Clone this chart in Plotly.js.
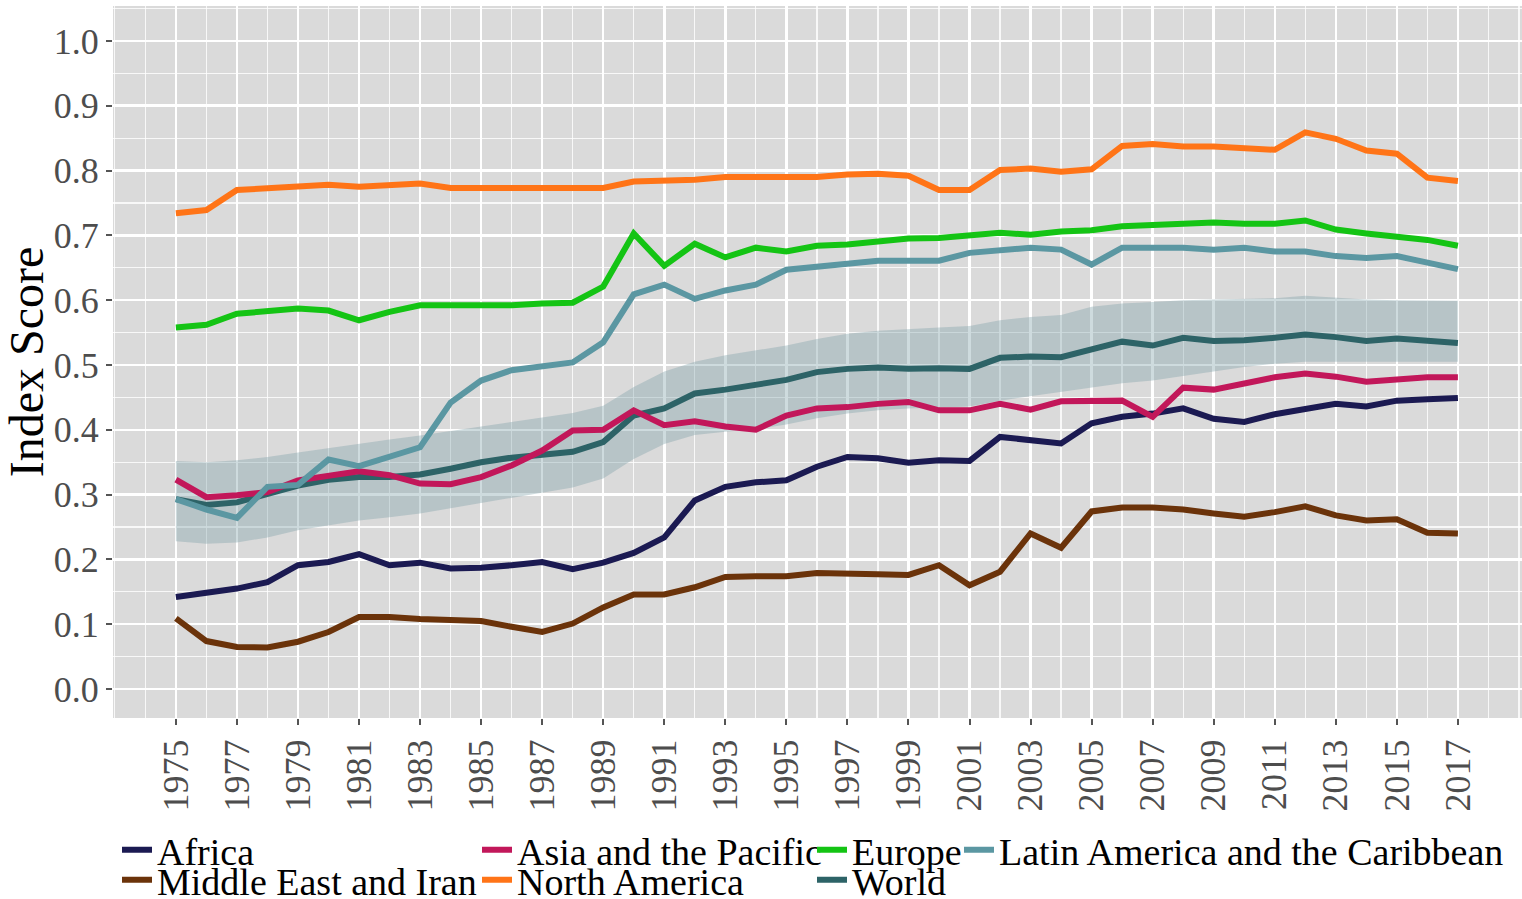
<!DOCTYPE html>
<html>
<head>
<meta charset="utf-8">
<script src="https://cdn.plot.ly/plotly-3.0.1.min.js"></script>
<style>
html,body{margin:0;padding:0;background:#fff;}
#chart{width:1522px;height:899px;}
</style>
</head>
<body>
<div id="chart"></div>
<script>
const years = [1975,1976,1977,1978,1979,1980,1981,1982,1983,1984,1985,1986,1987,1988,1989,1990,1991,1992,1993,1994,1995,1996,1997,1998,1999,2000,2001,2002,2003,2004,2005,2006,2007,2008,2009,2010,2011,2012,2013,2014,2015,2016,2017];

const africa = [0.142,0.149,0.155,0.165,0.191,0.196,0.208,0.191,0.195,0.186,0.187,0.191,0.196,0.185,0.195,0.210,0.234,0.291,0.312,0.319,0.322,0.343,0.358,0.356,0.349,0.353,0.352,0.389,0.385,0.379,0.410,0.420,0.425,0.433,0.417,0.412,0.424,0.431,0.440,0.436,0.445,0.447,0.449];

const asiaPacific = [0.323,0.296,0.299,0.304,0.322,0.330,0.336,0.330,0.317,0.316,0.327,0.345,0.368,0.399,0.400,0.430,0.407,0.413,0.405,0.400,0.422,0.433,0.435,0.440,0.443,0.430,0.430,0.440,0.431,0.444,0.444,0.445,0.420,0.465,0.462,0.472,0.481,0.487,0.482,0.474,0.477,0.481,0.481];

const europe = [0.558,0.562,0.579,0.582,0.587,0.584,0.569,0.582,0.592,0.592,0.592,0.592,0.595,0.596,0.621,0.703,0.653,0.687,0.666,0.681,0.675,0.684,0.686,0.690,0.695,0.696,0.700,0.704,0.701,0.706,0.708,0.714,0.716,0.718,0.720,0.718,0.718,0.723,0.709,0.703,0.697,0.693,0.684];

const latinAmerica = [0.293,0.277,0.264,0.312,0.315,0.354,0.344,0.359,0.373,0.442,0.476,0.492,0.499,0.504,0.535,0.609,0.624,0.602,0.615,0.624,0.647,0.652,0.655,0.661,0.661,0.661,0.673,0.678,0.681,0.678,0.655,0.681,0.681,0.681,0.678,0.681,0.675,0.675,0.668,0.665,0.668,0.658,0.648];

const middleEast = [0.109,0.074,0.065,0.064,0.073,0.088,0.111,0.111,0.108,0.106,0.105,0.096,0.088,0.101,0.126,0.146,0.146,0.157,0.173,0.174,0.174,0.179,0.177,0.177,0.176,0.191,0.160,0.181,0.240,0.218,0.274,0.280,0.280,0.277,0.271,0.266,0.273,0.282,0.268,0.260,0.262,0.241,0.240];

const northAmerica = [0.734,0.739,0.770,0.773,0.775,0.778,0.775,0.777,0.780,0.773,0.772,0.773,0.773,0.773,0.773,0.783,0.784,0.786,0.790,0.790,0.792,0.790,0.794,0.795,0.792,0.770,0.770,0.801,0.803,0.798,0.802,0.838,0.841,0.837,0.837,0.834,0.832,0.859,0.849,0.831,0.826,0.789,0.784];

const world = [0.293,0.284,0.288,0.302,0.314,0.323,0.327,0.327,0.331,0.340,0.350,0.357,0.361,0.366,0.381,0.422,0.433,0.456,0.462,0.470,0.477,0.489,0.494,0.496,0.494,0.495,0.494,0.511,0.513,0.512,0.525,0.536,0.530,0.542,0.537,0.538,0.542,0.547,0.543,0.537,0.541,0.537,0.534];

const worldUpper = [0.352,0.350,0.353,0.358,0.365,0.372,0.379,0.385,0.391,0.398,0.406,0.412,0.419,0.426,0.437,0.466,0.490,0.505,0.515,0.522,0.530,0.540,0.548,0.553,0.556,0.558,0.560,0.569,0.574,0.577,0.590,0.595,0.597,0.600,0.601,0.602,0.603,0.607,0.604,0.601,0.600,0.599,0.599];

const worldLower = [0.228,0.224,0.226,0.234,0.245,0.252,0.260,0.265,0.271,0.279,0.287,0.295,0.303,0.311,0.325,0.355,0.378,0.392,0.397,0.401,0.408,0.418,0.425,0.430,0.433,0.435,0.436,0.445,0.452,0.458,0.466,0.472,0.476,0.483,0.490,0.497,0.502,0.505,0.505,0.505,0.505,0.505,0.505];

const xTickYears = [1975,1977,1979,1981,1983,1985,1987,1989,1991,1993,1995,1997,1999,2001,2003,2005,2007,2009,2011,2013,2015,2017];
const xTickLabels = ["1975","1977","1979","1981","1983","1985","1987","1989","1991","1993","1995","1997","1999","2001","2003","2005","2007","2009","2011","2013","2015","2017"];
const yTickVals = [0,0.1,0.2,0.3,0.4,0.5,0.6,0.7,0.8,0.9,1.0];
const yTickLabels = ["0.0","0.1","0.2","0.3","0.4","0.5","0.6","0.7","0.8","0.9","1.0"];

const seriesNames = ["Africa","Asia and the Pacific","Europe","Latin America and the Caribbean","Middle East and Iran","North America","World"];
const seriesData = [africa, asiaPacific, europe, latinAmerica, middleEast, northAmerica, world];
const seriesColors = ["#1b1a52","#c2175a","#14c414","#5b97a2","#6b330a","#ff7417","#2d6367"];

const W = 1522, H = 899;
const M = {l: 113, r: 0, t: 6, b: 181};
const plotW = W - M.l - M.r, plotH = H - M.t - M.b;
// legend placement (left edge, row centre) in pixels
const legendPos = [
  [117, 850], [477, 850], [812, 850], [959, 850],
  [117, 880], [477, 880], [812, 880]
];

const font = "Liberation Serif, Times New Roman, serif";

const traces = [];
traces.push({
  x: years, y: worldLower, type: 'scatter', mode: 'lines',
  line: {width: 0, color: 'rgba(0,0,0,0)'}, showlegend: false, hoverinfo: 'skip'
});
traces.push({
  x: years, y: worldUpper, type: 'scatter', mode: 'lines', fill: 'tonexty',
  fillcolor: 'rgba(125,160,168,0.38)',
  line: {width: 0, color: 'rgba(0,0,0,0)'}, showlegend: false, hoverinfo: 'skip'
});
const order = [6,0,1,2,3,4,5];
order.forEach(i => {
  traces.push({
    x: years, y: seriesData[i], type: 'scatter', mode: 'lines',
    name: seriesNames[i],
    line: {color: seriesColors[i], width: 6},
    legend: i === 0 ? 'legend' : 'legend' + (i + 1)
  });
});

const layout = {
  width: W, height: H,
  margin: {l: M.l, r: M.r, t: M.t, b: M.b, pad: 0, autoexpand: false},
  paper_bgcolor: '#ffffff',
  plot_bgcolor: '#dadada',
  font: {family: font, color: '#000'},
  showlegend: true,
  xaxis: {
    range: [1972.94, 2019.1],
    tickmode: 'array', tickvals: xTickYears, ticktext: xTickLabels,
    tickangle: -90,
    tickfont: {family: font, size: 36, color: '#4d4d4d'},
    ticks: 'outside', ticklen: 6, tickwidth: 2, tickcolor: '#555',
    showgrid: true, gridcolor: '#ffffff', gridwidth: 2.5,
    minor: {tickmode: 'linear', tick0: 1975, dtick: 1, ticks: '', showgrid: true, gridcolor: 'rgba(255,255,255,0.8)', gridwidth: 1.3},
    zeroline: false, showline: false, automargin: false
  },
  yaxis: {
    range: [-0.0447, 1.0539],
    tickmode: 'array', tickvals: yTickVals, ticktext: yTickLabels,
    tickfont: {family: font, size: 36, color: '#4d4d4d'},
    ticks: 'outside', ticklen: 6, tickwidth: 2, tickcolor: '#555',
    showgrid: true, gridcolor: '#ffffff', gridwidth: 2.5,
    minor: {tickmode: 'linear', tick0: 0, dtick: 0.05, ticks: '', showgrid: true, gridcolor: 'rgba(255,255,255,0.8)', gridwidth: 1.3},
    zeroline: false, showline: false, automargin: false,
    title: {text: 'Index Score', font: {family: font, size: 48, color: '#000'}, standoff: 4}
  }
};

seriesNames.forEach((n, i) => {
  const key = i === 0 ? 'legend' : 'legend' + (i + 1);
  layout[key] = {
    xref: 'paper', yref: 'paper',
    x: (legendPos[i][0] - M.l) / plotW,
    y: (H - M.b - legendPos[i][1]) / plotH,
    xanchor: 'left', yanchor: 'middle',
    orientation: 'v',
    bgcolor: 'rgba(0,0,0,0)', borderwidth: 0,
    font: {family: font, size: 38, color: '#000'},
    itemwidth: 30
  };
});

Plotly.newPlot('chart', traces, layout, {displayModeBar: false, staticPlot: true});
</script>
</body>
</html>
